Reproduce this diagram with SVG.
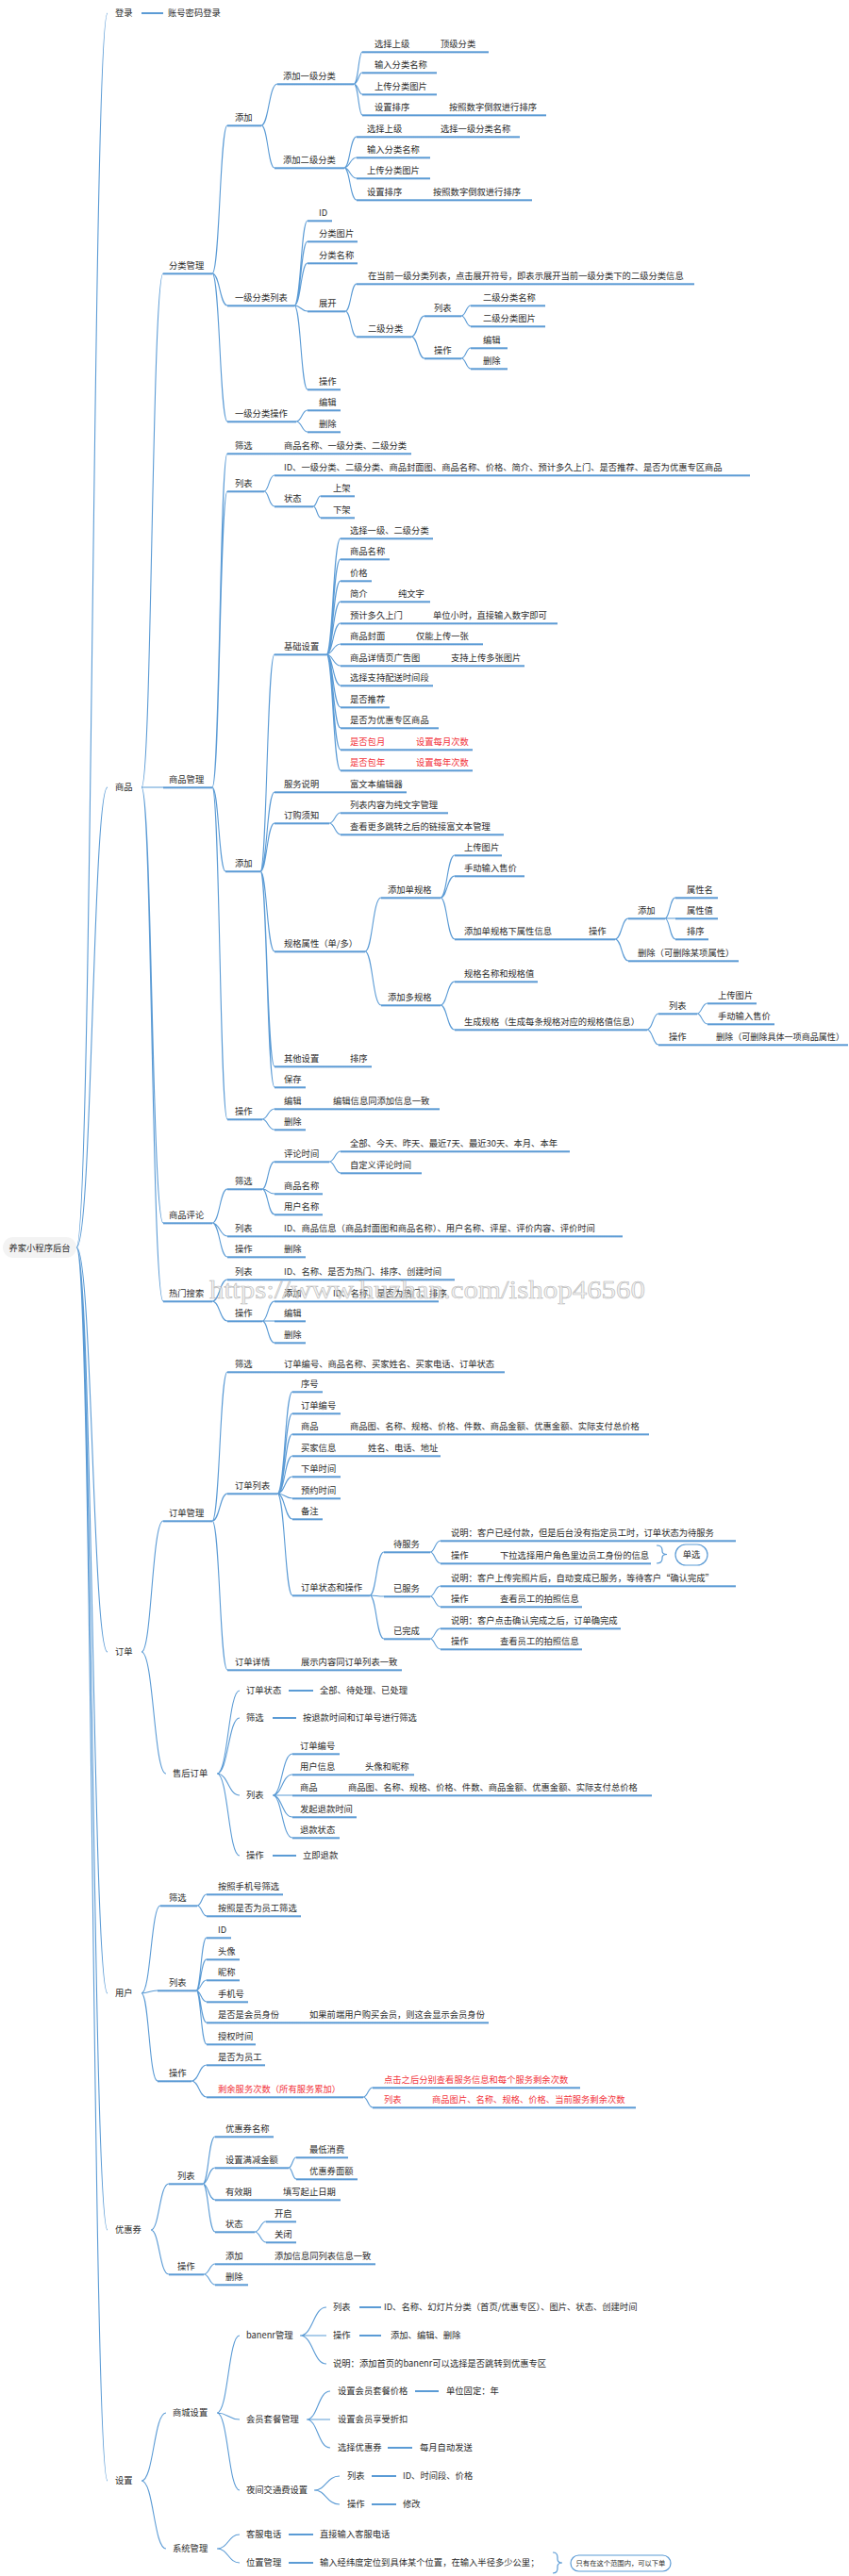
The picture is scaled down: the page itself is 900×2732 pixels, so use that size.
<svg xmlns="http://www.w3.org/2000/svg" width="900" height="2732" viewBox="0 0 900 2732">
<defs>
<linearGradient id="ug" x1="0" y1="0" x2="0" y2="1">
<stop offset="0" stop-color="#5b9bd5"/><stop offset=".55" stop-color="#5b9bd5"/><stop offset=".55" stop-color="#c6d9ee"/><stop offset="1" stop-color="#c6d9ee"/>
</linearGradient>
<style>
#nodes text{font-family:"Noto Sans CJK SC","Liberation Sans",sans-serif;font-size:9.3px;fill:#2b2b2b}
#nodes text.r{fill:#f2343c}
#nodes text.s{font-size:7.3px}
.u{fill:url(#ug)}
.c{fill:none;stroke:#5b9bd5;stroke-width:1.1}
.k{fill:none;stroke:#5b9bd5;stroke-width:1.8}
.b{fill:none;stroke:#5b9bd5;stroke-width:1.2}
.p{fill:#fff;stroke:#5b9bd5;stroke-width:1.2}
</style>
</defs>
<rect width="900" height="2732" fill="#fff"/>
<g id="connectors">
<path class="c" d="M81 1323C98 1323 98 14 114 14M81 1323C98 1323 98 835 114 835M81 1323C98 1323 98 1752 114 1752M81 1323C98 1323 98 2114 114 2114M81 1323C98 1323 98 2365 114 2365M81 1323C98 1323 98 2631 114 2631"/>
<path class="c" d="M150 835C161 835 161 290 173 290M150 835H173M150 835C161 835 161 1297 173 1297M150 835C161 835 161 1380 173 1380"/>
<path class="c" d="M225 290C233 290 233 133 241 133M225 290C233 290 233 324 241 324M225 290C233 290 233 447 241 447"/>
<path class="c" d="M277 133C285 133 285 89 294 89M277 133C284 133 284 178 291 178"/>
<path class="c" d="M375 89C380 89 380 55 384 55M375 89C380 89 380 77 384 77M375 89C380 89 380 100 384 100M375 89C380 89 380 122 384 122"/>
<path class="c" d="M365 178C371 178 371 145 378 145M365 178C371 178 371 167 378 167M365 178C371 178 371 189 378 189M365 178C371 178 371 212 378 212"/>
<path class="c" d="M312 324C319 324 319 234 326 234M312 324C319 324 319 256 326 256M312 324C319 324 319 279 326 279M312 324C319 324 319 330 326 330M312 324C319 324 319 413 326 413"/>
<path class="c" d="M366 330C372 330 372 301 378 301M366 330C372 330 372 357 378 357"/>
<path class="c" d="M436 357C443 357 443 335 450 335M436 357C443 357 443 380 450 380"/>
<path class="c" d="M489 335C494 335 494 324 499 324M489 335C494 335 494 346 499 346M489 380C494 380 494 369 499 369M489 380C494 380 494 391 499 391"/>
<path class="c" d="M314 447C320 447 320 435 326 435M314 447C320 447 320 458 326 458"/>
<path class="c" d="M225 835C233 835 233 481 241 481M225 835C233 835 233 521 241 521M225 835C232 835 232 924 239 924M225 835C233 835 233 1187 241 1187"/>
<path class="c" d="M280 521C285 521 285 504 291 504M280 521C285 521 285 537 291 537M332 537C336 537 336 526 340 526M332 537C336 537 336 549 340 549"/>
<path class="c" d="M276 924C283 924 283 694 291 694M276 924C283 924 283 840 291 840M276 924C283 924 283 873 291 873M276 924C283 924 283 1009 291 1009M276 924C283 924 283 1131 291 1131M276 924C283 924 283 1153 291 1153"/>
<path class="c" d="M346 694C353 694 353 571 361 571M346 694C353 694 353 593 361 593M346 694C353 694 353 616 361 616M346 694C353 694 353 638 361 638M346 694C353 694 353 661 361 661M346 694C353 694 353 683 361 683M346 694C353 694 353 706 361 706M346 694C353 694 353 727 361 727M346 694C353 694 353 750 361 750M346 694C353 694 353 772 361 772M346 694C353 694 353 795 361 795M346 694C353 694 353 817 361 817"/>
<path class="c" d="M349 873C355 873 355 862 361 862M349 873C355 873 355 885 361 885"/>
<path class="c" d="M387 1009C395 1009 395 952 404 952M387 1009C395 1009 395 1066 404 1066"/>
<path class="c" d="M467 952C474 952 474 907 482 907M467 952C474 952 474 929 482 929M467 952C474 952 474 996 482 996"/>
<path class="c" d="M652 996C659 996 659 974 666 974M652 996C659 996 659 1019 666 1019"/>
<path class="c" d="M705 974C710 974 710 952 716 952M705 974H716M705 974C710 974 710 996 716 996"/>
<path class="c" d="M467 1066C474 1066 474 1041 482 1041M467 1066C474 1066 474 1092 482 1092"/>
<path class="c" d="M686 1092C692 1092 692 1075 698 1075M686 1092C692 1092 692 1108 698 1108M739 1075C744 1075 744 1064 750 1064M739 1075C744 1075 744 1086 750 1086"/>
<path class="c" d="M278 1187C284 1187 284 1176 291 1176M278 1187C284 1187 284 1198 291 1198"/>
<path class="c" d="M225 1297C233 1297 233 1261 241 1261M225 1297C233 1297 233 1311 241 1311M225 1297C233 1297 233 1333 241 1333"/>
<path class="c" d="M278 1261C284 1261 284 1232 291 1232M278 1261C284 1261 284 1266 291 1266M278 1261C284 1261 284 1288 291 1288M349 1232C355 1232 355 1221 361 1221M349 1232C355 1232 355 1244 361 1244"/>
<path class="c" d="M225 1380C233 1380 233 1357 241 1357M225 1380C233 1380 233 1401 241 1401M278 1401C284 1401 284 1380 291 1380M278 1401H291M278 1401C284 1401 284 1424 291 1424"/>
<path class="c" d="M150 1752C161 1752 161 1613 173 1613M150 1752C163 1752 163 1881 176 1881"/>
<path class="c" d="M225 1613C233 1613 233 1455 241 1455M225 1613C233 1613 233 1584 241 1584M225 1613C233 1613 233 1771 241 1771"/>
<path class="c" d="M294 1584C302 1584 302 1476 310 1476M294 1584C302 1584 302 1499 310 1499M294 1584C302 1584 302 1521 310 1521M294 1584C302 1584 302 1544 310 1544M294 1584C302 1584 302 1566 310 1566M294 1584C302 1584 302 1589 310 1589M294 1584C302 1584 302 1611 310 1611M294 1584C302 1584 302 1692 310 1692"/>
<path class="c" d="M392 1692C399 1692 399 1646 407 1646M392 1692C399 1692 399 1693 407 1693M392 1692C399 1692 399 1738 407 1738"/>
<path class="c" d="M456 1646C461 1646 461 1634 467 1634M456 1646C461 1646 461 1658 467 1658M456 1693C461 1693 461 1682 467 1682M456 1693C461 1693 461 1704 467 1704M456 1738C461 1738 461 1727 467 1727M456 1738C461 1738 461 1749 467 1749"/>
<path class="c" d="M230 1881C242 1881 242 1793 254 1793M230 1881C242 1881 242 1822 254 1822M230 1881C242 1881 242 1904 254 1904M230 1881C242 1881 242 1968 254 1968"/>
<path class="c" d="M289 1904C299 1904 299 1860 310 1860M289 1904C299 1904 299 1882 310 1882M289 1904H310M289 1904C299 1904 299 1927 310 1927M289 1904C299 1904 299 1949 310 1949"/>
<path class="c" d="M150 2114C160 2114 160 2021 170 2021M150 2114C158 2114 158 2111 167 2111M150 2114C158 2114 158 2207 167 2207"/>
<path class="c" d="M209 2021C214 2021 214 2009 219 2009M209 2021C214 2021 214 2032 219 2032"/>
<path class="c" d="M208 2111C213 2111 213 2055 219 2055M208 2111C213 2111 213 2078 219 2078M208 2111C213 2111 213 2100 219 2100M208 2111C213 2111 213 2123 219 2123M208 2111C213 2111 213 2145 219 2145M208 2111C213 2111 213 2168 219 2168"/>
<path class="c" d="M203 2207C211 2207 211 2190 219 2190M203 2207C211 2207 211 2224 219 2224M385 2224C390 2224 390 2214 395 2214M385 2224C390 2224 390 2235 395 2235"/>
<path class="c" d="M160 2365C169 2365 169 2316 179 2316M160 2365C169 2365 169 2412 179 2412"/>
<path class="c" d="M215 2316C221 2316 221 2266 228 2266M215 2316C221 2316 221 2299 228 2299M215 2316C221 2316 221 2333 228 2333M215 2316C221 2316 221 2367 228 2367"/>
<path class="c" d="M306 2299C310 2299 310 2288 314 2288M306 2299C310 2299 310 2311 314 2311M270 2367C276 2367 276 2356 282 2356M270 2367C276 2367 276 2378 282 2378"/>
<path class="c" d="M216 2412C222 2412 222 2401 228 2401M216 2412C222 2412 222 2423 228 2423"/>
<path class="c" d="M150 2631C163 2631 163 2559 176 2559M150 2631C163 2631 163 2703 176 2703"/>
<path class="c" d="M230 2559C242 2559 242 2477 254 2477M230 2559C242 2559 242 2566 254 2566M230 2559C242 2559 242 2641 254 2641"/>
<path class="c" d="M318 2477C332 2477 332 2447 346 2447M318 2477H346M318 2477C332 2477 332 2507 346 2507"/>
<path class="c" d="M325 2566C337 2566 337 2536 350 2536M325 2566H350M325 2566C337 2566 337 2596 350 2596"/>
<path class="c" d="M333 2641C346 2641 346 2626 360 2626M333 2641C346 2641 346 2656 360 2656"/>
<path class="c" d="M230 2703C242 2703 242 2688 254 2688M230 2703C242 2703 242 2718 254 2718"/>
<path class="k" d="M150 14H173M306 1793H332M289 1822H314M289 1968H314M381 2447H404M381 2477H404M440 2536H465M411 2596H437M394 2626H420M394 2656H420M306 2688H332M306 2718H332"/>
<path class="b" d="M696 1639Q702 1639 702 1644L702 1645Q702 1648.5 707 1648.5Q702 1648.5 702 1652L702 1653Q702 1658 696 1658"/>
<path class="b" d="M586 2707Q591 2707 591 2712L591 2714Q591 2718 596 2718Q591 2718 591 2722L591 2724Q591 2729 586 2729"/>
</g>
<g id="nodes">
<g id="root"><rect x="3" y="1312" width="78" height="22" rx="11" fill="#f3f3f3"/><text x="42" y="1326.5" text-anchor="middle">养家小程序后台</text></g>
<g id="login"><text x="122" y="17.4">登录</text></g>
<g id="login-acc"><text x="178" y="17.4">账号密码登录</text></g>

<g id="goods"><text x="122" y="838.4">商品</text></g>
<g id="cat"><rect class="u" x="173" y="289.3" width="52" height="2.6"/><text x="179" y="285">分类管理</text></g>
<g id="cat-add"><rect class="u" x="241" y="132.3" width="36" height="2.6"/><text x="249" y="128">添加</text></g>
<g id="cat-add1"><rect class="u" x="294" y="88.3" width="81" height="2.6"/><text x="300" y="84">添加一级分类</text></g>
<g id="cat-add1-p"><rect class="u" x="384" y="54.3" width="134" height="2.6"/><text x="397" y="50">选择上级</text></g>
<g id="cat-add1-pv"><text x="467" y="50">顶级分类</text></g>
<g id="cat-add1-name"><rect class="u" x="384" y="76.3" width="79" height="2.6"/><text x="397" y="72">输入分类名称</text></g>
<g id="cat-add1-img"><rect class="u" x="384" y="99.3" width="79" height="2.6"/><text x="397" y="95">上传分类图片</text></g>
<g id="cat-add1-sort"><rect class="u" x="384" y="121.3" width="195" height="2.6"/><text x="397" y="117">设置排序</text></g>
<g id="cat-add1-sortv"><text x="476" y="117">按照数字倒叙进行排序</text></g>
<g id="cat-add2"><rect class="u" x="291" y="177.3" width="74" height="2.6"/><text x="300" y="173">添加二级分类</text></g>
<g id="cat-add2-p"><rect class="u" x="378" y="144.3" width="173" height="2.6"/><text x="389" y="140">选择上级</text></g>
<g id="cat-add2-pv"><text x="467" y="140">选择一级分类名称</text></g>
<g id="cat-add2-name"><rect class="u" x="378" y="166.3" width="78" height="2.6"/><text x="389" y="162">输入分类名称</text></g>
<g id="cat-add2-img"><rect class="u" x="378" y="188.3" width="78" height="2.6"/><text x="389" y="184">上传分类图片</text></g>
<g id="cat-add2-sort"><rect class="u" x="378" y="211.3" width="186" height="2.6"/><text x="389" y="207">设置排序</text></g>
<g id="cat-add2-sortv"><text x="459" y="207">按照数字倒叙进行排序</text></g>
<g id="cat-list"><rect class="u" x="241" y="323.3" width="71" height="2.6"/><text x="249" y="319">一级分类列表</text></g>
<g id="cat-list-id"><rect class="u" x="326" y="233.3" width="26" height="2.6"/><text x="338" y="229">ID</text></g>
<g id="cat-list-img"><rect class="u" x="326" y="255.3" width="53" height="2.6"/><text x="338" y="251">分类图片</text></g>
<g id="cat-list-name"><rect class="u" x="326" y="278.3" width="53" height="2.6"/><text x="338" y="274">分类名称</text></g>
<g id="cat-list-exp"><rect class="u" x="326" y="329.3" width="40" height="2.6"/><text x="338" y="325">展开</text></g>
<g id="cat-list-op"><rect class="u" x="326" y="412.3" width="35" height="2.6"/><text x="338" y="408">操作</text></g>
<g id="cat-exp-desc"><rect class="u" x="378" y="300.3" width="358" height="2.6"/><text x="390" y="296">在当前一级分类列表，点击展开符号，即表示展开当前一级分类下的二级分类信息</text></g>
<g id="cat-exp-sub"><rect class="u" x="378" y="356.3" width="58" height="2.6"/><text x="390" y="352">二级分类</text></g>
<g id="cat-sub-list"><rect class="u" x="450" y="334.3" width="39" height="2.6"/><text x="460" y="330">列表</text></g>
<g id="cat-sub-name"><rect class="u" x="499" y="323.3" width="79" height="2.6"/><text x="512" y="319">二级分类名称</text></g>
<g id="cat-sub-img"><rect class="u" x="499" y="345.3" width="79" height="2.6"/><text x="512" y="341">二级分类图片</text></g>
<g id="cat-sub-op"><rect class="u" x="450" y="379.3" width="39" height="2.6"/><text x="460" y="375">操作</text></g>
<g id="cat-sub-edit"><rect class="u" x="499" y="368.3" width="39" height="2.6"/><text x="512" y="364">编辑</text></g>
<g id="cat-sub-del"><rect class="u" x="499" y="390.3" width="39" height="2.6"/><text x="512" y="386">删除</text></g>
<g id="cat-op"><rect class="u" x="241" y="446.3" width="73" height="2.6"/><text x="249" y="442">一级分类操作</text></g>
<g id="cat-op-edit"><rect class="u" x="326" y="434.3" width="35" height="2.6"/><text x="338" y="430">编辑</text></g>
<g id="cat-op-del"><rect class="u" x="326" y="457.3" width="35" height="2.6"/><text x="338" y="453">删除</text></g>

<g id="gm"><rect class="u" x="173" y="834.3" width="52" height="2.6"/><text x="179" y="830">商品管理</text></g>
<g id="gm-filter"><rect class="u" x="241" y="480.3" width="195" height="2.6"/><text x="249" y="476">筛选</text></g>
<g id="gm-filter-v"><text x="301" y="476">商品名称、一级分类、二级分类</text></g>
<g id="gm-list"><rect class="u" x="241" y="520.3" width="39" height="2.6"/><text x="249" y="516">列表</text></g>
<g id="gm-list-cols"><rect class="u" x="291" y="503.3" width="504" height="2.6"/><text x="301" y="499">ID、一级分类、二级分类、商品封面图、商品名称、价格、简介、预计多久上门、是否推荐、是否为优惠专区商品</text></g>
<g id="gm-list-st"><rect class="u" x="291" y="536.3" width="41" height="2.6"/><text x="301" y="532">状态</text></g>
<g id="gm-st-on"><rect class="u" x="340" y="525.3" width="36" height="2.6"/><text x="353" y="521">上架</text></g>
<g id="gm-st-off"><rect class="u" x="340" y="548.3" width="36" height="2.6"/><text x="353" y="544">下架</text></g>
<g id="gm-add"><rect class="u" x="239" y="923.3" width="37" height="2.6"/><text x="249" y="919">添加</text></g>
<g id="gm-basic"><rect class="u" x="291" y="693.3" width="55" height="2.6"/><text x="301" y="689">基础设置</text></g>
<g id="b1"><rect class="u" x="361" y="570.3" width="98" height="2.6"/><text x="371" y="566">选择一级、二级分类</text></g>
<g id="b2"><rect class="u" x="361" y="592.3" width="52" height="2.6"/><text x="371" y="588">商品名称</text></g>
<g id="b3"><rect class="u" x="361" y="615.3" width="33" height="2.6"/><text x="371" y="611">价格</text></g>
<g id="b4"><rect class="u" x="361" y="637.3" width="95" height="2.6"/><text x="371" y="633">简介</text></g>
<g id="b4v"><text x="422" y="633">纯文字</text></g>
<g id="b5"><rect class="u" x="361" y="660.3" width="230" height="2.6"/><text x="371" y="656">预计多久上门</text></g>
<g id="b5v"><text x="459" y="656">单位小时，直接输入数字即可</text></g>
<g id="b6"><rect class="u" x="361" y="682.3" width="151" height="2.6"/><text x="371" y="678">商品封面</text></g>
<g id="b6v"><text x="441" y="678">仅能上传一张</text></g>
<g id="b7"><rect class="u" x="361" y="705.3" width="195" height="2.6"/><text x="371" y="701">商品详情页广告图</text></g>
<g id="b7v"><text x="478" y="701">支持上传多张图片</text></g>
<g id="b8"><rect class="u" x="361" y="726.3" width="98" height="2.6"/><text x="371" y="722">选择支持配送时间段</text></g>
<g id="b9"><rect class="u" x="361" y="749.3" width="52" height="2.6"/><text x="371" y="745">是否推荐</text></g>
<g id="b10"><rect class="u" x="361" y="771.3" width="104" height="2.6"/><text x="371" y="767">是否为优惠专区商品</text></g>
<g id="b11"><rect class="u" x="361" y="794.3" width="140" height="2.6"/><text class="r" x="371" y="790">是否包月</text></g>
<g id="b11v"><text class="r" x="441" y="790">设置每月次数</text></g>
<g id="b12"><rect class="u" x="361" y="816.3" width="140" height="2.6"/><text class="r" x="371" y="812">是否包年</text></g>
<g id="b12v"><text class="r" x="441" y="812">设置每年次数</text></g>
<g id="gm-svc"><rect class="u" x="291" y="839.3" width="140" height="2.6"/><text x="301" y="835">服务说明</text></g>
<g id="gm-svc-v"><text x="371" y="835">富文本编辑器</text></g>
<g id="gm-notice"><rect class="u" x="291" y="872.3" width="58" height="2.6"/><text x="301" y="868">订购须知</text></g>
<g id="gm-notice-1"><rect class="u" x="361" y="861.3" width="114" height="2.6"/><text x="371" y="857">列表内容为纯文字管理</text></g>
<g id="gm-notice-2"><rect class="u" x="361" y="884.3" width="173" height="2.6"/><text x="371" y="880">查看更多跳转之后的链接富文本管理</text></g>
<g id="gm-spec"><rect class="u" x="291" y="1008.3" width="96" height="2.6"/><text x="301" y="1004">规格属性（单/多）</text></g>
<g id="spec-single"><rect class="u" x="404" y="951.3" width="63" height="2.6"/><text x="411" y="947">添加单规格</text></g>
<g id="ss-img"><rect class="u" x="482" y="906.3" width="50" height="2.6"/><text x="492" y="902">上传图片</text></g>
<g id="ss-price"><rect class="u" x="482" y="928.3" width="74" height="2.6"/><text x="492" y="924">手动输入售价</text></g>
<g id="ss-attr"><rect class="u" x="482" y="995.3" width="170" height="2.6"/><text x="492" y="991">添加单规格下属性信息</text></g>
<g id="ss-op"><text x="624" y="991">操作</text></g>
<g id="ss-add"><rect class="u" x="666" y="973.3" width="39" height="2.6"/><text x="676" y="969">添加</text></g>
<g id="ss-an"><rect class="u" x="716" y="951.3" width="45" height="2.6"/><text x="728" y="947">属性名</text></g>
<g id="ss-av"><rect class="u" x="716" y="973.3" width="45" height="2.6"/><text x="728" y="969">属性值</text></g>
<g id="ss-as"><rect class="u" x="716" y="995.3" width="35" height="2.6"/><text x="728" y="991">排序</text></g>
<g id="ss-del"><rect class="u" x="666" y="1018.3" width="117" height="2.6"/><text x="676" y="1014">删除（可删除某项属性）</text></g>
<g id="spec-multi"><rect class="u" x="404" y="1065.3" width="63" height="2.6"/><text x="411" y="1061">添加多规格</text></g>
<g id="sm-name"><rect class="u" x="482" y="1040.3" width="88" height="2.6"/><text x="492" y="1036">规格名称和规格值</text></g>
<g id="sm-gen"><rect class="u" x="482" y="1091.3" width="204" height="2.6"/><text x="492" y="1087">生成规格（生成每条规格对应的规格值信息）</text></g>
<g id="sm-list"><rect class="u" x="698" y="1074.3" width="41" height="2.6"/><text x="709" y="1070">列表</text></g>
<g id="sm-img"><rect class="u" x="750" y="1063.3" width="52" height="2.6"/><text x="761" y="1059">上传图片</text></g>
<g id="sm-price"><rect class="u" x="750" y="1085.3" width="71" height="2.6"/><text x="761" y="1081">手动输入售价</text></g>
<g id="sm-op"><rect class="u" x="698" y="1107.3" width="201" height="2.6"/><text x="709" y="1103">操作</text></g>
<g id="sm-del"><text x="759" y="1103" textLength="136" lengthAdjust="spacingAndGlyphs">删除（可删除具体一项商品属性）</text></g>
<g id="gm-other"><rect class="u" x="291" y="1130.3" width="103" height="2.6"/><text x="301" y="1126">其他设置</text></g>
<g id="gm-other-v"><text x="371" y="1126">排序</text></g>
<g id="gm-save"><rect class="u" x="291" y="1152.3" width="33" height="2.6"/><text x="301" y="1148">保存</text></g>
<g id="gm-op"><rect class="u" x="241" y="1186.3" width="37" height="2.6"/><text x="249" y="1182">操作</text></g>
<g id="gm-op-edit"><rect class="u" x="291" y="1175.3" width="175" height="2.6"/><text x="301" y="1171">编辑</text></g>
<g id="gm-op-edit-v"><text x="353" y="1171">编辑信息同添加信息一致</text></g>
<g id="gm-op-del"><rect class="u" x="291" y="1197.3" width="33" height="2.6"/><text x="301" y="1193">删除</text></g>

<g id="cm"><rect class="u" x="173" y="1296.3" width="52" height="2.6"/><text x="179" y="1292">商品评论</text></g>
<g id="cm-filter"><rect class="u" x="241" y="1260.3" width="37" height="2.6"/><text x="249" y="1256">筛选</text></g>
<g id="cm-time"><rect class="u" x="291" y="1231.3" width="58" height="2.6"/><text x="301" y="1227">评论时间</text></g>
<g id="cm-time-1"><rect class="u" x="361" y="1220.3" width="243" height="2.6"/><text x="371" y="1216">全部、今天、昨天、最近7天、最近30天、本月、本年</text></g>
<g id="cm-time-2"><rect class="u" x="361" y="1243.3" width="86" height="2.6"/><text x="371" y="1239">自定义评论时间</text></g>
<g id="cm-gname"><rect class="u" x="291" y="1265.3" width="51" height="2.6"/><text x="301" y="1261">商品名称</text></g>
<g id="cm-uname"><rect class="u" x="291" y="1287.3" width="51" height="2.6"/><text x="301" y="1283">用户名称</text></g>
<g id="cm-list"><rect class="u" x="241" y="1310.3" width="419" height="2.6"/><text x="249" y="1306">列表</text></g>
<g id="cm-list-v"><text x="301" y="1306">ID、商品信息（商品封面图和商品名称）、用户名称、评星、评价内容、评价时间</text></g>
<g id="cm-op"><rect class="u" x="241" y="1332.3" width="83" height="2.6"/><text x="249" y="1328">操作</text></g>
<g id="cm-op-del"><text x="301" y="1328">删除</text></g>

<g id="hs"><rect class="u" x="173" y="1379.3" width="52" height="2.6"/><text x="179" y="1375">热门搜索</text></g>
<g id="hs-list"><rect class="u" x="241" y="1356.3" width="241" height="2.6"/><text x="249" y="1352">列表</text></g>
<g id="hs-list-v"><text x="301" y="1352">ID、名称、是否为热门、排序、创建时间</text></g>
<g id="hs-op"><rect class="u" x="241" y="1400.3" width="37" height="2.6"/><text x="249" y="1396">操作</text></g>
<g id="hs-add"><rect class="u" x="291" y="1379.3" width="174" height="2.6"/><text x="301" y="1375">添加</text></g>
<g id="hs-add-v"><text x="353" y="1375">ID、名称、是否为热门、排序</text></g>
<g id="hs-edit"><rect class="u" x="291" y="1400.3" width="33" height="2.6"/><text x="301" y="1396">编辑</text></g>
<g id="hs-del"><rect class="u" x="291" y="1423.3" width="33" height="2.6"/><text x="301" y="1419">删除</text></g>

<g id="order"><text x="122" y="1755.4">订单</text></g>
<g id="om"><rect class="u" x="173" y="1612.3" width="52" height="2.6"/><text x="179" y="1608">订单管理</text></g>
<g id="om-filter"><rect class="u" x="241" y="1454.3" width="294" height="2.6"/><text x="249" y="1450">筛选</text></g>
<g id="om-filter-v"><text x="301" y="1450">订单编号、商品名称、买家姓名、买家电话、订单状态</text></g>
<g id="om-list"><rect class="u" x="241" y="1583.3" width="53" height="2.6"/><text x="249" y="1579">订单列表</text></g>
<g id="ol1"><rect class="u" x="310" y="1475.3" width="32" height="2.6"/><text x="319" y="1471">序号</text></g>
<g id="ol2"><rect class="u" x="310" y="1498.3" width="51" height="2.6"/><text x="319" y="1494">订单编号</text></g>
<g id="ol3"><rect class="u" x="310" y="1520.3" width="378" height="2.6"/><text x="319" y="1516">商品</text></g>
<g id="ol3v"><text x="371" y="1516">商品图、名称、规格、价格、件数、商品金额、优惠金额、实际支付总价格</text></g>
<g id="ol4"><rect class="u" x="310" y="1543.3" width="157" height="2.6"/><text x="319" y="1539">买家信息</text></g>
<g id="ol4v"><text x="390" y="1539">姓名、电话、地址</text></g>
<g id="ol5"><rect class="u" x="310" y="1565.3" width="51" height="2.6"/><text x="319" y="1561">下单时间</text></g>
<g id="ol6"><rect class="u" x="310" y="1588.3" width="51" height="2.6"/><text x="319" y="1584">预约时间</text></g>
<g id="ol7"><rect class="u" x="310" y="1610.3" width="32" height="2.6"/><text x="319" y="1606">备注</text></g>
<g id="ol8"><rect class="u" x="310" y="1691.3" width="82" height="2.6"/><text x="319" y="1687">订单状态和操作</text></g>
<g id="st1"><rect class="u" x="407" y="1645.3" width="49" height="2.6"/><text x="417" y="1641">待服务</text></g>
<g id="st1-d"><rect class="u" x="467" y="1633.3" width="313" height="2.6"/><text x="478" y="1629">说明：客户已经付款，但是后台没有指定员工时，订单状态为待服务</text></g>
<g id="st1-op"><rect class="u" x="467" y="1657.3" width="223" height="2.6"/><text x="478" y="1653">操作</text></g>
<g id="st1-op-v"><text x="530" y="1653">下拉选择用户角色里边员工身份的信息</text></g>
<g id="st1-sum"><rect class="p" x="716" y="1638" width="34" height="22" rx="11"/><text x="733" y="1652.4" text-anchor="middle">单选</text></g>
<g id="st2"><rect class="u" x="407" y="1692.3" width="49" height="2.6"/><text x="417" y="1688">已服务</text></g>
<g id="st2-d"><rect class="u" x="467" y="1681.3" width="313" height="2.6"/><text x="478" y="1677">说明：客户上传完照片后，自动变成已服务，等待客户“确认完成”</text></g>
<g id="st2-op"><rect class="u" x="467" y="1703.3" width="150" height="2.6"/><text x="478" y="1699">操作</text></g>
<g id="st2-op-v"><text x="530" y="1699">查看员工的拍照信息</text></g>
<g id="st3"><rect class="u" x="407" y="1737.3" width="49" height="2.6"/><text x="417" y="1733">已完成</text></g>
<g id="st3-d"><rect class="u" x="467" y="1726.3" width="191" height="2.6"/><text x="478" y="1722">说明：客户点击确认完成之后，订单确完成</text></g>
<g id="st3-op"><rect class="u" x="467" y="1748.3" width="150" height="2.6"/><text x="478" y="1744">操作</text></g>
<g id="st3-op-v"><text x="530" y="1744">查看员工的拍照信息</text></g>
<g id="om-detail"><rect class="u" x="241" y="1770.3" width="185" height="2.6"/><text x="249" y="1766">订单详情</text></g>
<g id="om-detail-v"><text x="319" y="1766">展示内容同订单列表一致</text></g>

<g id="as"><text x="183" y="1884.4">售后订单</text></g>
<g id="as-st"><text x="261" y="1796.4">订单状态</text></g>
<g id="as-st-v"><text x="339" y="1796.4">全部、待处理、已处理</text></g>
<g id="as-filter"><text x="261" y="1825.4">筛选</text></g>
<g id="as-filter-v"><text x="321" y="1825.4">按退款时间和订单号进行筛选</text></g>
<g id="as-list"><text x="261" y="1907.4">列表</text></g>
<g id="al1"><rect class="u" x="310" y="1859.3" width="50" height="2.6"/><text x="318" y="1855">订单编号</text></g>
<g id="al2"><rect class="u" x="310" y="1881.3" width="129" height="2.6"/><text x="318" y="1877">用户信息</text></g>
<g id="al2v"><text x="387" y="1877">头像和昵称</text></g>
<g id="al3"><rect class="u" x="310" y="1903.3" width="381" height="2.6"/><text x="318" y="1899">商品</text></g>
<g id="al3v"><text x="369" y="1899">商品图、名称、规格、价格、件数、商品金额、优惠金额、实际支付总价格</text></g>
<g id="al4"><rect class="u" x="310" y="1926.3" width="68" height="2.6"/><text x="318" y="1922">发起退款时间</text></g>
<g id="al5"><rect class="u" x="310" y="1948.3" width="50" height="2.6"/><text x="318" y="1944">退款状态</text></g>
<g id="as-op"><text x="261" y="1971.4">操作</text></g>
<g id="as-op-v"><text x="321" y="1971.4">立即退款</text></g>

<g id="user"><text x="122" y="2117.4">用户</text></g>
<g id="u-filter"><rect class="u" x="170" y="2020.3" width="39" height="2.6"/><text x="179" y="2016">筛选</text></g>
<g id="u-f1"><rect class="u" x="219" y="2008.3" width="81" height="2.6"/><text x="231" y="2004">按照手机号筛选</text></g>
<g id="u-f2"><rect class="u" x="219" y="2031.3" width="100" height="2.6"/><text x="231" y="2027">按照是否为员工筛选</text></g>
<g id="u-list"><rect class="u" x="167" y="2110.3" width="41" height="2.6"/><text x="179" y="2106">列表</text></g>
<g id="u-l1"><rect class="u" x="219" y="2054.3" width="26" height="2.6"/><text x="231" y="2050">ID</text></g>
<g id="u-l2"><rect class="u" x="219" y="2077.3" width="35" height="2.6"/><text x="231" y="2073">头像</text></g>
<g id="u-l3"><rect class="u" x="219" y="2099.3" width="35" height="2.6"/><text x="231" y="2095">昵称</text></g>
<g id="u-l4"><rect class="u" x="219" y="2122.3" width="44" height="2.6"/><text x="231" y="2118">手机号</text></g>
<g id="u-l5"><rect class="u" x="219" y="2144.3" width="299" height="2.6"/><text x="231" y="2140">是否是会员身份</text></g>
<g id="u-l5v"><text x="328" y="2140">如果前端用户购买会员，则这会显示会员身份</text></g>
<g id="u-l6"><rect class="u" x="219" y="2167.3" width="52" height="2.6"/><text x="231" y="2163">授权时间</text></g>
<g id="u-op"><rect class="u" x="167" y="2206.3" width="36" height="2.6"/><text x="179" y="2202">操作</text></g>
<g id="u-op1"><rect class="u" x="219" y="2189.3" width="62" height="2.6"/><text x="231" y="2185">是否为员工</text></g>
<g id="u-op2"><rect class="u" x="219" y="2223.3" width="166" height="2.6"/><text class="r" x="231" y="2219">剩余服务次数（所有服务累加）</text></g>
<g id="u-op2a"><rect class="u" x="395" y="2213.3" width="220" height="2.6"/><text class="r" x="407" y="2209">点击之后分别查看服务信息和每个服务剩余次数</text></g>
<g id="u-op2b"><rect class="u" x="395" y="2234.3" width="279" height="2.6"/><text class="r" x="407" y="2230">列表</text></g>
<g id="u-op2bv"><text class="r" x="458" y="2230">商品图片、名称、规格、价格、当前服务剩余次数</text></g>

<g id="coupon"><text x="122" y="2368.4">优惠券</text></g>
<g id="c-list"><rect class="u" x="179" y="2315.3" width="36" height="2.6"/><text x="188" y="2311">列表</text></g>
<g id="c-l1"><rect class="u" x="228" y="2265.3" width="62" height="2.6"/><text x="239" y="2261">优惠券名称</text></g>
<g id="c-l2"><rect class="u" x="228" y="2298.3" width="78" height="2.6"/><text x="239" y="2294">设置满减金额</text></g>
<g id="c-l2a"><rect class="u" x="314" y="2287.3" width="55" height="2.6"/><text x="328" y="2283">最低消费</text></g>
<g id="c-l2b"><rect class="u" x="314" y="2310.3" width="65" height="2.6"/><text x="328" y="2306">优惠券面额</text></g>
<g id="c-l3"><rect class="u" x="228" y="2332.3" width="133" height="2.6"/><text x="239" y="2328">有效期</text></g>
<g id="c-l3v"><text x="300" y="2328">填写起止日期</text></g>
<g id="c-l4"><rect class="u" x="228" y="2366.3" width="42" height="2.6"/><text x="239" y="2362">状态</text></g>
<g id="c-l4a"><rect class="u" x="282" y="2355.3" width="32" height="2.6"/><text x="291" y="2351">开启</text></g>
<g id="c-l4b"><rect class="u" x="282" y="2377.3" width="32" height="2.6"/><text x="291" y="2373">关闭</text></g>
<g id="c-op"><rect class="u" x="179" y="2411.3" width="37" height="2.6"/><text x="188" y="2407">操作</text></g>
<g id="c-op1"><rect class="u" x="228" y="2400.3" width="170" height="2.6"/><text x="239" y="2396">添加</text></g>
<g id="c-op1v"><text x="291" y="2396">添加信息同列表信息一致</text></g>
<g id="c-op2"><rect class="u" x="228" y="2422.3" width="35" height="2.6"/><text x="239" y="2418">删除</text></g>

<g id="settings"><text x="122" y="2634.4">设置</text></g>
<g id="shop"><text x="183" y="2562.4">商城设置</text></g>
<g id="banner"><text x="261" y="2480.4">banenr管理</text></g>
<g id="bn-list"><text x="353" y="2450.4">列表</text></g>
<g id="bn-list-v"><text x="407" y="2450.4">ID、名称、幻灯片分类（首页/优惠专区）、图片、状态、创建时间</text></g>
<g id="bn-op"><text x="353" y="2480.4">操作</text></g>
<g id="bn-op-v"><text x="414" y="2480.4">添加、编辑、删除</text></g>
<g id="bn-note"><text x="353" y="2510.4">说明：添加首页的banenr可以选择是否跳转到优惠专区</text></g>
<g id="vip"><text x="261" y="2569.4">会员套餐管理</text></g>
<g id="vip-1"><text x="358" y="2539.4">设置会员套餐价格</text></g>
<g id="vip-1v"><text x="473" y="2539.4">单位固定：年</text></g>
<g id="vip-2"><text x="358" y="2569.4">设置会员享受折扣</text></g>
<g id="vip-3"><text x="358" y="2599.4">选择优惠券</text></g>
<g id="vip-3v"><text x="445" y="2599.4">每月自动发送</text></g>
<g id="night"><text x="261" y="2644.4">夜间交通费设置</text></g>
<g id="night-list"><text x="368" y="2629.4">列表</text></g>
<g id="night-list-v"><text x="427" y="2629.4">ID、时间段、价格</text></g>
<g id="night-op"><text x="368" y="2659.4">操作</text></g>
<g id="night-op-v"><text x="427" y="2659.4">修改</text></g>
<g id="sys"><text x="183" y="2706.4">系统管理</text></g>
<g id="sys-tel"><text x="261" y="2691.4">客服电话</text></g>
<g id="sys-tel-v"><text x="339" y="2691.4">直接输入客服电话</text></g>
<g id="sys-loc"><text x="261" y="2721.4">位置管理</text></g>
<g id="sys-loc-v"><text x="339" y="2721.4">输入经纬度定位到具体某个位置，在输入半径多少公里；</text></g>
<g id="sys-loc-sum"><rect class="p" x="605" y="2710" width="106" height="17" rx="8.5"/><text class="s" x="658" y="2721" text-anchor="middle">只有在这个范围内，可以下单</text></g>
</g>
<text x="222" y="1377" font-family="Liberation Serif, serif" font-size="28" textLength="462" lengthAdjust="spacingAndGlyphs" fill="#e9e9e9" fill-opacity="0.6" stroke="#a8a8a8" stroke-width="0.6" stroke-opacity="0.8">https://www.huzhan.com/ishop46560</text>
</svg>
